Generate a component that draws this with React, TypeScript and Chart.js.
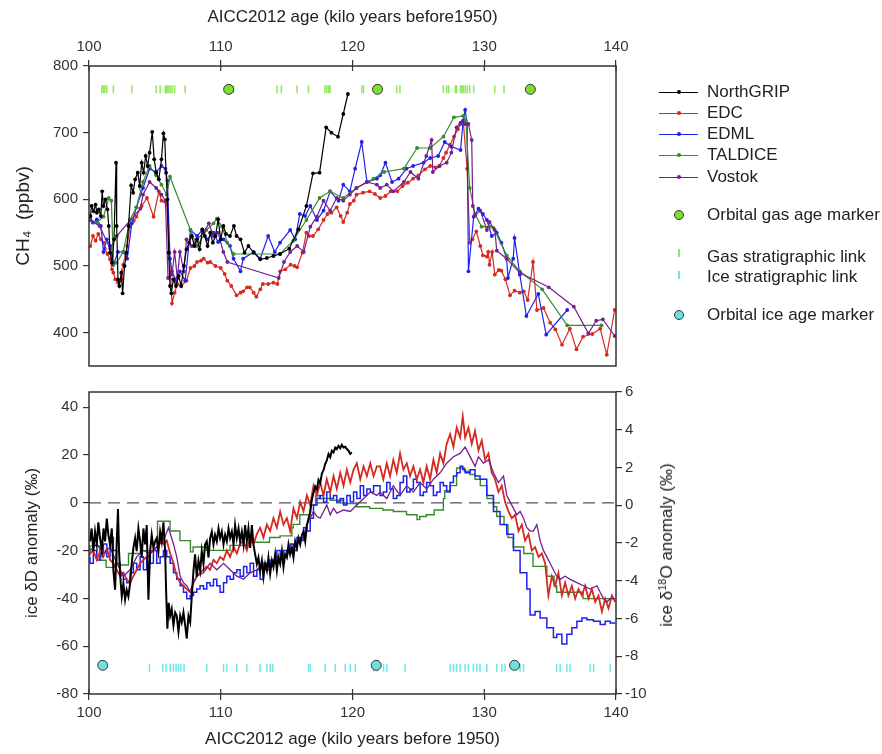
import React, { useEffect, useRef } from "react";
import { Chart, registerables } from "chart.js";
Chart.register(...registerables);

// ---------- tick labels ----------
const AGE_TICKS = [100, 110, 120, 130, 140];
const CH4_TICKS = [400, 500, 600, 700, 800];
const DD_TICKS = [-80, -60, -40, -20, 0, 20, 40];
const D18O_TICKS = [-10, -8, -6, -4, -2, 0, 2, 4, 6];

const SERIES_NAMES = ["NorthGRIP", "EDC", "EDML", "TALDICE", "Vostok"];
const SERIES_COLORS = ["#000000", "#d42a22", "#1e22ee", "#3a8a2c", "#74208f"];

// ---------- CH4 (ppbv) : [age ka, value] ----------
const ngripCH4 = [
  [100.1, 575], [100.2, 590], [100.35, 582], [100.5, 592], [100.6, 580], [100.75, 585], [100.9, 575], [101.0, 612],
  [101.1, 590], [101.25, 600], [101.4, 585], [101.5, 560], [101.6, 520], [101.75, 505], [101.9, 540], [102.05, 655],
  [102.1, 560], [102.2, 480], [102.3, 470], [102.45, 490], [102.55, 459], [102.7, 500], [102.85, 520], [103.0, 560],
  [103.2, 621], [103.35, 610], [103.5, 630], [103.7, 640], [103.85, 620], [104.0, 655], [104.15, 640], [104.3, 665],
  [104.45, 650], [104.6, 670], [104.8, 701], [104.95, 660], [105.1, 640], [105.3, 630], [105.5, 660], [105.65, 699],
  [105.75, 690], [105.85, 640], [105.95, 600], [106.05, 520], [106.15, 470], [106.25, 459], [106.4, 480], [106.6, 470],
  [106.8, 485], [107.0, 470], [107.2, 500], [107.4, 525], [107.6, 535], [107.8, 545], [108.0, 530], [108.2, 540],
  [108.4, 525], [108.6, 555], [108.8, 545], [109.0, 530], [109.2, 550], [109.4, 535], [109.6, 545], [109.8, 570],
  [110.0, 540], [110.2, 560], [110.4, 548], [110.7, 545], [111.0, 560], [111.2, 545], [111.5, 540], [111.8, 520],
  [112.1, 530], [112.5, 520], [113.0, 510], [113.5, 512], [114.0, 515], [114.5, 518], [115.2, 526], [115.9, 555],
  [116.5, 590], [117.0, 639], [117.5, 640], [118.0, 708], [118.4, 700], [118.9, 694], [119.3, 728], [119.65, 758],
];
const edcCH4 = [
  [100.1, 530], [100.3, 545], [100.5, 538], [100.7, 548], [100.9, 540], [101.1, 535], [101.2, 526], [101.4, 518],
  [101.6, 510], [101.75, 495], [101.85, 490], [102.0, 480], [102.2, 475], [102.4, 478], [102.5, 480], [102.6, 502],
  [102.9, 530], [103.1, 559], [103.4, 568], [103.6, 574], [104.0, 590], [104.4, 602], [104.9, 574], [105.3, 612],
  [105.5, 598], [105.9, 593], [106.1, 520], [106.3, 444], [106.5, 460], [106.7, 473], [107.0, 470], [107.4, 478],
  [107.7, 497], [108.0, 500], [108.2, 506], [108.5, 508], [108.7, 511], [109.0, 505], [109.2, 506], [109.6, 500],
  [110.0, 497], [110.3, 488], [110.5, 478], [110.8, 470], [111.2, 456], [111.5, 460], [111.7, 462], [112.0, 468],
  [112.2, 468], [112.5, 460], [112.7, 454], [113.0, 465], [113.2, 473], [113.6, 473], [114.0, 475], [114.3, 473],
  [114.5, 492], [114.9, 495], [115.3, 502], [115.6, 500], [115.8, 498], [116.2, 520], [116.5, 550], [116.7, 545],
  [117.0, 545], [117.4, 555], [117.8, 569], [118.1, 578], [118.4, 580], [118.8, 588], [119.1, 575], [119.3, 566],
  [119.6, 580], [119.8, 593], [120.1, 598], [120.3, 607], [120.8, 610], [121.3, 612], [121.7, 608], [122.1, 602],
  [122.5, 605], [122.9, 612], [123.4, 612], [123.8, 620], [124.2, 625], [124.6, 631], [125.0, 636], [125.5, 645],
  [125.9, 650], [126.3, 648], [126.6, 650], [126.9, 662], [127.1, 670], [127.4, 682], [127.7, 694], [128.0, 705],
  [128.2, 713], [128.4, 718], [128.7, 646], [128.9, 535], [129.1, 540], [129.4, 552], [129.7, 530], [129.9, 516],
  [130.2, 514], [130.3, 521], [130.4, 502], [130.6, 521], [130.8, 487], [131.1, 494], [131.3, 493], [131.6, 480],
  [131.96, 456], [132.3, 463], [132.7, 460], [133.0, 462], [133.3, 449], [133.7, 506], [134.0, 434], [134.5, 437],
  [135.0, 415], [135.4, 405], [135.9, 382], [136.5, 406], [137.0, 375], [137.5, 394], [138.2, 398], [138.8, 406],
  [139.3, 367], [139.9, 434],
];
const edmlCH4 = [
  [100.1, 574], [100.3, 565], [100.6, 570], [100.9, 560], [101.1, 521], [101.35, 540], [101.6, 530], [101.85, 502],
  [102.2, 521], [102.6, 521], [102.9, 511], [103.25, 564], [103.6, 588], [104.1, 617], [104.6, 646], [105.1, 641],
  [105.5, 650], [105.8, 646], [105.95, 628], [106.15, 511], [106.3, 492], [106.6, 478], [106.9, 492], [107.3, 478],
  [107.7, 554], [108.2, 545], [108.6, 554], [108.95, 540], [109.45, 550], [109.8, 536], [110.2, 540], [110.7, 530],
  [110.97, 511], [111.5, 492], [111.7, 511], [112.5, 521], [113.0, 511], [113.6, 545], [114.1, 521], [114.5, 535],
  [115.27, 554], [115.65, 540], [116.0, 578], [116.4, 575], [116.8, 590], [117.3, 569], [117.8, 583], [118.3, 612],
  [118.94, 598], [119.3, 622], [119.8, 612], [120.2, 646], [120.7, 686], [121.1, 626], [121.85, 631], [122.1, 636],
  [122.5, 655], [123.0, 626], [123.5, 631], [124.1, 646], [124.6, 650], [125.4, 655], [125.9, 662], [126.5, 665],
  [127.0, 686], [127.5, 679], [128.2, 674], [128.4, 718], [128.55, 734], [128.7, 713], [128.8, 492], [129.2, 574],
  [129.56, 586], [129.9, 578], [130.2, 569], [130.57, 545], [130.95, 550], [131.3, 535], [131.7, 511], [131.8, 482],
  [132.2, 511], [132.3, 542], [132.7, 487], [133.2, 425], [134.1, 458], [134.7, 397], [136.3, 434],
];
const taldiceCH4 = [
  [100.1, 569], [100.6, 565], [101.1, 574], [101.5, 602], [101.7, 598], [101.85, 502], [102.1, 505], [102.6, 521],
  [103.1, 569], [103.6, 588], [104.1, 626], [104.6, 650], [105.1, 636], [105.5, 622], [105.9, 607], [106.15, 634],
  [107.7, 554], [108.2, 530], [108.4, 535], [108.9, 554], [109.45, 564], [109.7, 571], [110.1, 559], [110.5, 535],
  [110.97, 518], [114.5, 518], [115.5, 538], [116.5, 569], [117.5, 602], [118.3, 612], [119.3, 602], [120.3, 617],
  [121.6, 631], [122.4, 641], [123.9, 646], [124.9, 677], [125.9, 677], [126.9, 694], [127.7, 723], [128.4, 725],
  [128.6, 718], [128.9, 617], [129.3, 578], [129.8, 559], [130.4, 559], [130.7, 557], [131.7, 516], [132.7, 492],
  [134.4, 465], [136.3, 411], [138.9, 411],
];
const vostokCH4 = [
  [100.1, 569], [100.8, 560], [101.6, 526], [102.1, 545], [103.9, 586], [104.1, 607], [104.6, 626], [105.1, 617],
  [105.5, 607], [105.8, 598], [106.0, 482], [106.3, 487], [106.5, 521], [106.7, 482], [106.9, 521], [107.2, 492],
  [107.4, 540], [107.8, 530], [108.2, 540], [108.7, 550], [109.1, 564], [109.45, 545], [109.8, 550], [110.2, 521],
  [110.5, 506], [114.4, 482], [114.8, 506], [115.27, 521], [115.8, 530], [116.3, 521], [116.8, 559], [117.3, 574],
  [117.8, 598], [118.3, 583], [118.8, 602], [119.3, 598], [119.8, 607], [120.3, 617], [121.1, 626], [121.85, 622],
  [122.1, 617], [122.6, 622], [123.1, 612], [123.9, 626], [124.4, 641], [125.0, 631], [125.6, 665], [126.0, 689],
  [126.1, 641], [126.6, 650], [127.15, 655], [127.5, 670], [127.9, 708], [128.2, 715], [128.55, 713], [128.8, 713],
  [129.05, 689], [129.13, 590], [129.3, 576], [129.7, 583], [130.2, 554], [130.4, 566], [130.8, 554], [130.95, 523],
  [131.7, 511], [132.7, 490], [134.9, 468], [136.8, 439], [137.9, 399], [138.5, 418], [139.0, 420], [139.9, 395],
];
const gasMarkers = [[110.6, 765], [121.9, 765], [133.5, 765]];
const GAS_LINK_LEVEL = 765;
const gasLinkAges = [
  100.97, 101.1, 101.2, 101.35, 101.85, 103.25, 105.1, 105.4, 105.8, 105.9, 106.0, 106.15, 106.3, 106.5, 107.3,
  110.8, 110.97, 114.26, 114.6, 115.8, 116.66, 117.9, 118.05, 118.2, 118.3, 120.7, 120.84, 123.35, 123.6, 126.9,
  127.15, 127.3, 127.8, 127.9, 128.2, 128.3, 128.4, 128.55, 128.7, 128.9, 129.2, 130.8, 131.5,
];

// ---------- ice isotopes : [age ka, value] ----------
// NorthGRIP on the δ18O (right) axis
const ngripIso = [
  [100.08, -1.91], [100.2, -1.23], [100.33, -2.43], [100.46, -1.4], [100.59, -2.08], [100.71, -0.9], [100.84, -1.74],
  [100.97, -2.43], [101.1, -1.23], [101.22, -1.91], [101.35, -0.71], [101.47, -1.57], [101.6, -2.08], [101.73, -1.23],
  [101.85, -3.46], [101.98, -4.48], [102.1, -2.08], [102.2, -0.2], [102.28, -2.43], [102.41, -4.14], [102.49, -4.83],
  [102.61, -4.14], [102.74, -5.0], [102.86, -4.48], [102.99, -4.83], [103.12, -4.14], [103.24, -3.11], [103.37, -2.26],
  [103.5, -1.74], [103.62, -2.43], [103.75, -1.23], [103.88, -1.91], [104.0, -2.77], [104.13, -1.23], [104.26, -2.08],
  [104.38, -1.05], [104.51, -5.0], [104.64, -2.43], [104.76, -1.57], [104.89, -2.26], [105.02, -1.91], [105.14, -1.74],
  [105.27, -2.43], [105.4, -1.4], [105.52, -1.91], [105.65, -0.9], [105.78, -2.43], [105.85, -4.48], [105.95, -6.54],
  [106.05, -5.17], [106.16, -5.86], [106.28, -5.5], [106.41, -6.37], [106.54, -5.68], [106.66, -5.86], [106.79, -6.71],
  [106.92, -5.86], [107.04, -6.2], [107.17, -5.68], [107.3, -6.37], [107.42, -7.06], [107.55, -5.86], [107.68, -6.2],
  [107.8, -4.83], [107.93, -3.46], [108.05, -2.6], [108.18, -3.8], [108.31, -2.94], [108.44, -3.46], [108.56, -2.43],
  [108.69, -3.11], [108.81, -2.08], [108.94, -1.91], [109.07, -2.77], [109.19, -1.74], [109.32, -1.4], [109.45, -2.08],
  [109.57, -1.57], [109.7, -1.91], [109.83, -1.23], [109.95, -1.74], [110.08, -1.4], [110.21, -2.08], [110.33, -1.57],
  [110.46, -1.91], [110.59, -1.23], [110.71, -1.74], [110.84, -1.4], [110.97, -2.08], [111.09, -1.05], [111.22, -1.74],
  [111.35, -1.23], [111.47, -1.91], [111.6, -1.4], [111.73, -2.08], [111.85, -1.05], [111.98, -1.91], [112.1, -1.23],
  [112.23, -2.26], [112.36, -1.05], [112.48, -2.08], [112.61, -2.6], [112.74, -3.11], [112.86, -2.77], [112.99, -3.46],
  [113.12, -2.94], [113.24, -3.8], [113.37, -3.11], [113.5, -3.46], [113.62, -2.77], [113.75, -3.63], [113.88, -2.94],
  [114.0, -3.28], [114.13, -2.6], [114.26, -3.46], [114.38, -2.77], [114.51, -3.11], [114.64, -2.43], [114.76, -3.28],
  [114.89, -2.6], [115.02, -2.77], [115.14, -2.08], [115.27, -2.6], [115.4, -2.26], [115.52, -2.77], [115.65, -1.91],
  [115.78, -2.26], [115.9, -1.74], [116.03, -2.08], [116.16, -1.57], [116.28, -1.4], [116.41, -1.91], [116.54, -1.05],
  [116.66, -0.71], [116.79, -0.37], [116.92, 0.32], [117.04, 0.66], [117.17, 1.0], [117.3, 0.83], [117.42, 1.35],
  [117.55, 1.18], [117.68, 1.69], [117.8, 1.86], [117.93, 2.2], [118.05, 2.38], [118.18, 2.72], [118.31, 2.55],
  [118.43, 2.89], [118.56, 2.8], [118.69, 3.06], [118.81, 2.98], [118.94, 3.15], [119.07, 3.02], [119.19, 3.2],
  [119.32, 3.06], [119.45, 3.1], [119.57, 2.98], [119.7, 2.89], [119.83, 2.72], [119.95, 2.8],
];
// δD (left axis)
const edcIso = [
  [100.08, -21.2], [100.33, -19.9], [100.59, -23.9], [100.84, -20.5], [101.09, -22.6], [101.35, -19.0], [101.6, -23.9],
  [101.85, -25.3], [102.11, -28.0], [102.36, -30.7], [102.61, -29.3], [102.86, -32.0], [103.12, -33.4], [103.37, -30.7],
  [103.62, -28.0], [103.88, -25.3], [104.13, -23.9], [104.38, -22.6], [104.64, -21.2], [104.89, -19.9], [105.14, -18.5],
  [105.4, -15.8], [105.65, -17.2], [105.9, -15.8], [106.16, -21.2], [106.41, -25.3], [106.66, -30.7], [106.92, -33.4],
  [107.17, -34.7], [107.42, -36.1], [107.68, -37.4], [107.93, -33.4], [108.18, -30.7], [108.43, -29.3], [108.69, -28.0],
  [108.94, -26.6], [109.19, -28.0], [109.45, -23.9], [109.7, -25.3], [109.95, -22.6], [110.21, -23.9], [110.46, -19.9],
  [110.71, -22.6], [110.97, -18.5], [111.22, -21.2], [111.47, -17.2], [111.73, -15.8], [111.98, -19.9], [112.23, -14.5],
  [112.49, -17.2], [112.74, -13.1], [112.99, -10.4], [113.24, -14.5], [113.5, -9.1], [113.75, -11.8], [114.0, -6.4],
  [114.26, -10.4], [114.51, -3.6], [114.76, -9.1], [115.02, -6.4], [115.27, -11.8], [115.52, -2.3], [115.78, -6.4],
  [116.03, 0.4], [116.28, -3.6], [116.54, 3.1], [116.79, -0.9], [117.04, 7.2], [117.3, 3.1], [117.55, 8.5],
  [117.8, 3.1], [118.05, 9.9], [118.31, 4.5], [118.56, 11.2], [118.81, 5.8], [119.07, 12.6], [119.32, 7.2],
  [119.57, 13.9], [119.83, 8.5], [120.08, 13.9], [120.33, 16.6], [120.59, 9.9], [120.84, 15.3], [121.09, 11.2],
  [121.35, 16.6], [121.6, 11.2], [121.85, 15.3], [122.09, 15.3], [122.34, 9.9], [122.6, 16.6], [122.85, 11.2],
  [123.1, 18.0], [123.36, 12.6], [123.61, 20.7], [123.86, 13.9], [124.12, 16.6], [124.37, 11.2], [124.62, 15.3],
  [124.87, 9.9], [125.13, 13.9], [125.38, 8.5], [125.63, 15.3], [125.89, 9.9], [126.14, 18.0], [126.39, 12.6],
  [126.65, 20.7], [126.9, 16.6], [127.15, 24.7], [127.41, 28.8], [127.66, 23.4], [127.91, 31.5], [128.17, 27.4],
  [128.37, 36.2], [128.55, 27.4], [128.8, 31.5], [129.05, 24.7], [129.3, 30.1], [129.56, 22.0], [129.81, 26.1],
  [130.06, 18.0], [130.32, 20.7], [130.57, 12.6], [130.82, 9.9], [131.08, 4.5], [131.33, 7.2], [131.58, 0.4],
  [131.84, -3.6], [132.09, -6.4], [132.34, -5.0], [132.6, -11.8], [132.85, -9.1], [133.1, -15.8], [133.36, -13.1],
  [133.61, -19.9], [133.86, -18.5], [134.12, -22.6], [134.37, -21.2], [134.62, -25.3], [134.87, -38.8], [135.13, -30.7],
  [135.38, -34.7], [135.63, -29.3], [135.89, -38.8], [136.14, -33.4], [136.39, -38.8], [136.65, -34.7], [136.9, -40.1],
  [137.15, -36.1], [137.41, -38.8], [137.66, -34.7], [137.91, -40.1], [138.17, -36.1], [138.42, -41.5], [138.67, -38.8],
  [138.93, -45.5], [139.18, -40.1], [139.43, -44.2], [139.69, -38.8], [139.94, -41.5],
];
const edmlIso = [
  [100.08, -22.6], [100.33, -25.3], [100.59, -19.9], [100.84, -23.9], [101.09, -21.2], [101.35, -17.2], [101.6, -22.6],
  [101.85, -14.5], [102.11, -19.9], [102.36, -25.3], [102.61, -29.3], [102.86, -32.0], [103.12, -33.4], [103.37, -29.3],
  [103.62, -25.3], [103.88, -28.0], [104.13, -22.6], [104.38, -28.0], [104.64, -22.6], [104.89, -25.3], [105.14, -19.9],
  [105.4, -25.3], [105.65, -22.6], [105.9, -19.9], [106.16, -22.6], [106.41, -25.3], [106.66, -29.3], [106.92, -32.0],
  [107.17, -34.7], [107.42, -37.4], [107.68, -40.1], [107.93, -38.8], [108.18, -37.4], [108.43, -36.1], [108.69, -34.7],
  [108.94, -36.1], [109.19, -33.4], [109.45, -34.7], [109.7, -32.0], [109.95, -34.7], [110.21, -37.4], [110.46, -33.4],
  [110.71, -30.7], [110.97, -32.0], [111.22, -29.3], [111.47, -28.0], [111.73, -30.7], [111.98, -26.6], [112.23, -29.3],
  [112.49, -25.3], [112.74, -30.7], [112.99, -28.0], [113.24, -32.0], [113.5, -25.3], [113.75, -28.0], [114.0, -23.9],
  [114.26, -25.3], [114.51, -19.9], [114.76, -22.6], [115.02, -19.9], [115.27, -21.2], [115.52, -17.2], [115.78, -19.9],
  [116.03, -14.5], [116.28, -15.8], [116.54, -10.4], [116.79, -11.8], [117.04, -6.4], [117.3, -0.9], [117.55, 1.8],
  [117.8, 3.1], [118.05, 0.4], [118.31, 4.5], [118.56, 1.8], [118.81, 3.1], [119.07, 0.4], [119.32, 1.8],
  [119.57, -0.9], [119.83, 3.1], [120.08, 0.4], [120.33, 4.5], [120.59, 1.8], [120.84, 7.2], [121.09, 3.1],
  [121.35, 5.8], [121.6, 4.5], [121.85, 7.2], [122.09, 7.2], [122.34, 3.1], [122.6, 4.5], [122.85, 8.5],
  [123.1, 5.8], [123.36, 1.8], [123.61, 3.1], [123.86, 8.5], [124.12, 11.2], [124.37, 4.5], [124.62, 5.8],
  [124.87, 9.9], [125.13, 8.5], [125.38, 3.1], [125.63, 4.5], [125.89, 8.5], [126.14, 7.2], [126.39, 3.1],
  [126.65, 4.5], [126.9, 8.5], [127.15, 7.2], [127.41, 4.5], [127.66, 8.5], [127.91, 11.2], [128.17, 12.6],
  [128.37, 15.3], [128.55, 14.0], [128.93, 12.6], [129.3, 13.9], [129.68, 11.2], [130.19, 9.9], [130.7, 3.1],
  [131.2, -3.6], [131.71, -9.1], [132.22, -13.1], [132.72, -19.9], [133.23, -29.3], [133.48, -36.1], [133.86, -46.9],
  [134.24, -45.5], [134.75, -48.2], [135.25, -52.3], [135.5, -56.4], [135.89, -55.0], [136.27, -59.1], [136.65, -55.0],
  [137.03, -52.3], [137.41, -49.6], [137.79, -48.2], [138.29, -48.9], [138.8, -49.6], [139.18, -50.9], [139.56, -49.6],
  [139.94, -50.3],
];
const taldiceIso = [
  [100.08, -22.0], [100.8, -18.0], [101.3, -24.0], [102.0, -27.0], [103.0, -26.0], [103.9, -21.2], [105.2, -20.0],
  [106.15, -7.7], [106.9, -11.8], [107.7, -15.8], [107.9, -20.5], [108.9, -18.5], [110.7, -19.9], [112.2, -17.8],
  [113.7, -16.5], [114.5, -14.5], [115.4, -13.8], [115.5, -10.4], [116.0, -9.0], [116.8, -5.0], [117.2, -0.9],
  [117.5, 3.1], [118.3, 1.8], [119.3, 1.1], [120.3, -0.3], [121.3, -1.6], [122.3, -2.3], [123.1, -3.0], [124.1, -3.6],
  [124.9, -5.0], [125.1, -7.0], [125.6, -5.7], [126.2, -5.0], [126.9, -3.0], [127.0, 1.8], [127.4, 5.1], [127.9, 7.2],
  [128.5, 14.6], [128.9, 13.2], [129.3, 11.9], [129.7, 9.9], [130.2, 7.2], [130.7, 1.8], [130.95, -1.6], [131.5, -5.7],
  [131.8, -9.1], [132.2, -14.5], [133.0, -18.5], [133.7, -21.2], [134.75, -26.6], [135.3, -30.7], [135.5, -34.7],
  [136.5, -37.4], [137.5, -37.4], [138.9, -40.1], [139.94, -40.1],
];
const vostokIso = [
  [100.08, -19.9], [100.59, -17.2], [101.09, -21.2], [101.6, -18.5], [102.11, -25.3], [102.61, -30.7], [103.12, -28.0],
  [103.62, -22.6], [104.13, -19.9], [104.64, -21.2], [105.14, -18.5], [105.65, -15.8], [106.03, -10.4], [106.41, -17.2],
  [106.66, -22.6], [106.92, -30.7], [107.17, -33.4], [107.42, -34.7], [107.68, -37.4], [107.93, -33.4], [108.18, -30.7],
  [108.69, -29.3], [109.19, -25.3], [109.7, -28.0], [110.21, -25.3], [110.71, -28.0], [111.22, -30.7], [111.73, -32.0],
  [112.23, -29.3], [112.74, -28.0], [113.24, -25.3], [113.75, -26.6], [114.26, -22.6], [114.76, -23.9], [115.27, -19.9],
  [115.78, -17.2], [116.28, -14.5], [116.54, -9.1], [116.79, -6.4], [117.04, -3.6], [117.3, -5.7], [117.55, -6.4],
  [117.8, -3.6], [118.05, -0.9], [118.31, -5.0], [118.56, -2.3], [118.81, -4.3], [119.32, -3.0], [119.83, -3.6],
  [120.33, -0.9], [120.84, 1.8], [121.35, 4.5], [121.85, 3.1], [122.09, 4.5], [122.6, 1.8], [123.1, 7.2],
  [123.61, 3.1], [124.12, 7.2], [124.62, 4.5], [125.13, 8.5], [125.63, 5.8], [126.14, 9.9], [126.65, 12.6],
  [127.15, 16.6], [127.66, 19.3], [128.17, 20.7], [128.55, 23.4], [128.8, 20.7], [129.05, 18.0], [129.3, 15.3],
  [129.56, 19.3], [129.94, 16.6], [130.32, 18.0], [130.7, 12.6], [131.08, 8.5], [131.46, 11.2], [131.71, 3.1],
  [131.96, 0.4], [132.22, -2.3], [132.47, -5.0], [132.72, -3.6], [132.98, -6.4], [133.23, -10.4], [133.48, -11.8],
  [133.73, -11.8], [133.99, -9.1], [134.24, -15.8], [134.49, -19.9], [134.75, -22.6], [135.0, -25.3], [135.25, -28.0],
  [135.5, -30.7], [135.76, -32.0], [136.14, -30.7], [136.52, -32.0], [137.03, -33.4], [137.53, -34.7], [138.04, -36.1],
  [138.55, -34.7], [138.8, -37.4], [139.05, -40.1], [139.3, -41.5], [139.56, -40.1], [139.94, -40.1],
];
const zeroLine = [[100, 0], [140, 0]];
const iceMarkers = [[101.04, -68], [121.8, -68], [132.3, -68]];
const ICE_LINK_LEVEL = -69;
const iceLinkAges = [
  104.59, 105.6, 105.85, 106.16, 106.41, 106.61, 106.79, 106.97, 107.22, 108.94, 110.21, 110.46, 111.22, 111.98,
  112.99, 113.5, 113.75, 113.95, 116.66, 116.79, 117.93, 118.69, 119.45, 119.83, 120.21, 121.6, 121.9, 122.36,
  122.6, 123.99, 127.41, 127.66, 127.91, 128.17, 128.55, 128.8, 129.18, 129.43, 129.68, 130.19, 130.95, 131.33,
  131.58, 132.72, 132.98, 135.5, 135.76, 136.27, 136.52, 138.04, 138.3, 139.56,
];

// ---------- helpers ----------
const pts = (a: number[][]) => a.map(([x, y]) => ({ x, y }));
const FONT = '"Liberation Sans", Arial, Helvetica, sans-serif';
const AXIS_COLOR = "#333";

const framePlugin = {
  id: "frame",
  afterDraw(chart: any, _args: any, opts: any) {
    const { ctx, chartArea: a } = chart;
    ctx.save();
    ctx.strokeStyle = AXIS_COLOR;
    ctx.lineWidth = 1.5;
    ctx.strokeRect(a.left, a.top, a.right - a.left, a.bottom - a.top);
    const xs = chart.scales.x;
    ctx.lineWidth = 1.2;
    for (const v of AGE_TICKS) {
      const px = xs.getPixelForValue(v);
      ctx.beginPath();
      if (opts.side === "top") {
        ctx.moveTo(px, a.top);
        ctx.lineTo(px, a.top + 5);
      } else {
        ctx.moveTo(px, a.bottom);
        ctx.lineTo(px, a.bottom - 5);
      }
      ctx.stroke();
    }
    ctx.restore();
  },
};

const tickFont = { family: FONT, size: 15 };
const titleFont = { family: FONT, size: 17 };
const gridOpts = { drawOnChartArea: false, drawTicks: true, tickLength: 6, color: AXIS_COLOR, lineWidth: 1.2 };

function ch4Dataset(name: string, color: string, data: number[][], order: number) {
  return {
    label: name,
    data: pts(data),
    borderColor: color,
    backgroundColor: color,
    borderWidth: 1.2,
    pointRadius: 1.9,
    pointBorderWidth: 0,
    pointBackgroundColor: color,
    pointHoverRadius: 0,
    order,
  };
}

function TopPanel() {
  const ref = useRef<HTMLCanvasElement>(null);
  useEffect(() => {
    const chart = new Chart(ref.current!, {
      type: "line",
      data: {
        datasets: [
          ch4Dataset(SERIES_NAMES[0], SERIES_COLORS[0], ngripCH4, 0),
          ch4Dataset(SERIES_NAMES[4], SERIES_COLORS[4], vostokCH4, 1),
          ch4Dataset(SERIES_NAMES[3], SERIES_COLORS[3], taldiceCH4, 2),
          ch4Dataset(SERIES_NAMES[2], SERIES_COLORS[2], edmlCH4, 3),
          ch4Dataset(SERIES_NAMES[1], SERIES_COLORS[1], edcCH4, 4),
          {
            label: "Gas stratigraphic link",
            data: gasLinkAges.map((x) => ({ x, y: GAS_LINK_LEVEL })),
            showLine: false,
            pointStyle: "line",
            pointRotation: 90,
            pointRadius: 4,
            pointBorderWidth: 1.5,
            pointBorderColor: "#8fe85a",
            pointHoverRadius: 0,
            order: 6,
          } as any,
          {
            label: "Orbital gas age marker",
            data: pts(gasMarkers),
            showLine: false,
            pointStyle: "circle",
            pointRadius: 5,
            pointBorderWidth: 1,
            pointBorderColor: "#333",
            pointBackgroundColor: "#7ee02c",
            pointHoverRadius: 0,
            order: -1,
          } as any,
        ],
      },
      options: {
        animation: false,
        responsive: false,
        events: [],
        layout: { padding: { left: 0, right: 266, top: 0, bottom: 2 } },
        plugins: { legend: { display: false }, tooltip: { enabled: false }, frame: { side: "top" } } as any,
        scales: {
          x: {
            type: "linear",
            position: "top",
            min: 100,
            max: 140,
            afterBuildTicks: (s: any) => { s.ticks = AGE_TICKS.map((value) => ({ value })); },
            afterFit: (s: any) => { s.height = 66; },
            ticks: { font: tickFont, color: AXIS_COLOR, padding: 4, maxRotation: 0 },
            grid: gridOpts,
            border: { display: false },
            title: { display: true, text: "AICC2012 age (kilo years before1950)", font: titleFont, color: "#222", padding: { top: 7, bottom: 0 } },
          },
          y: {
            type: "linear",
            min: 350,
            max: 800,
            afterBuildTicks: (s: any) => { s.ticks = CH4_TICKS.map((value) => ({ value })); },
            afterFit: (s: any) => { s.width = 89; },
            ticks: { font: tickFont, color: AXIS_COLOR, padding: 5 },
            grid: gridOpts,
            border: { display: false },
            title: { display: true, text: "CH\u2084  (ppbv)", font: { family: FONT, size: 19 }, color: "#222", padding: { top: 12, bottom: 0 } },
          },
        },
      } as any,
      plugins: [framePlugin],
    });
    return () => chart.destroy();
  }, []);
  return <canvas ref={ref} width={882} height={380} style={{ position: "absolute", left: 0, top: 0 }} />;
}

function isoDataset(name: string, color: string, data: number[][], width: number, order: number, axis: string, stepped: any) {
  return {
    label: name,
    data: pts(data),
    borderColor: color,
    borderWidth: width,
    pointRadius: 0,
    pointHoverRadius: 0,
    stepped,
    yAxisID: axis,
    order,
  };
}

function BottomPanel() {
  const ref = useRef<HTMLCanvasElement>(null);
  useEffect(() => {
    const chart = new Chart(ref.current!, {
      type: "line",
      data: {
        datasets: [
          {
            label: "zero",
            data: pts(zeroLine),
            borderColor: "#555",
            borderWidth: 1.3,
            borderDash: [12, 7],
            pointRadius: 0,
            yAxisID: "y",
            order: 10,
          } as any,
          isoDataset(SERIES_NAMES[0], SERIES_COLORS[0], ngripIso, 2, 0, "y2", false),
          isoDataset(SERIES_NAMES[4], SERIES_COLORS[4], vostokIso, 1.3, 1, "y", false),
          isoDataset(SERIES_NAMES[1], SERIES_COLORS[1], edcIso, 1.8, 2, "y", false),
          isoDataset(SERIES_NAMES[2], SERIES_COLORS[2], edmlIso, 1.5, 3, "y", "after"),
          isoDataset(SERIES_NAMES[3], SERIES_COLORS[3], taldiceIso, 1.4, 4, "y", "after"),
          {
            label: "Ice stratigraphic link",
            data: iceLinkAges.map((x) => ({ x, y: ICE_LINK_LEVEL })),
            showLine: false,
            pointStyle: "line",
            pointRotation: 90,
            pointRadius: 4,
            pointBorderWidth: 1.5,
            pointBorderColor: "#6fe6e6",
            pointHoverRadius: 0,
            yAxisID: "y",
            order: 6,
          } as any,
          {
            label: "Orbital ice age marker",
            data: pts(iceMarkers),
            showLine: false,
            pointStyle: "circle",
            pointRadius: 5,
            pointBorderWidth: 1,
            pointBorderColor: "#333",
            pointBackgroundColor: "#6ee0e0",
            pointHoverRadius: 0,
            yAxisID: "y",
            order: -1,
          } as any,
        ],
      },
      options: {
        animation: false,
        responsive: false,
        events: [],
        layout: { padding: { left: 0, right: 192, top: 0, bottom: 0 } },
        plugins: { legend: { display: false }, tooltip: { enabled: false }, frame: { side: "bottom" } } as any,
        scales: {
          x: {
            type: "linear",
            position: "bottom",
            min: 100,
            max: 140,
            afterBuildTicks: (s: any) => { s.ticks = AGE_TICKS.map((value) => ({ value })); },
            afterFit: (s: any) => { s.height = 60; },
            ticks: { font: tickFont, color: AXIS_COLOR, padding: 4, maxRotation: 0 },
            grid: gridOpts,
            border: { display: false },
            title: { display: true, text: "AICC2012 age (kilo years before 1950)", font: titleFont, color: "#222", padding: { top: 0, bottom: 4 } },
          },
          y: {
            type: "linear",
            position: "left",
            min: -80,
            max: 46.4,
            afterBuildTicks: (s: any) => { s.ticks = DD_TICKS.map((value) => ({ value })); },
            afterFit: (s: any) => { s.width = 89; },
            ticks: { font: tickFont, color: AXIS_COLOR, padding: 5 },
            grid: gridOpts,
            border: { display: false },
            title: { display: true, text: "ice \u03b4D anomaly (\u2030)", font: titleFont, color: "#222", padding: { top: 22, bottom: 0 } },
          },
          y2: {
            type: "linear",
            position: "right",
            min: -10,
            max: 6,
            afterBuildTicks: (s: any) => { s.ticks = D18O_TICKS.map((value) => ({ value })); },
            afterFit: (s: any) => { s.width = 74; },
            ticks: { font: tickFont, color: AXIS_COLOR, padding: 3 },
            grid: gridOpts,
            border: { display: false },
            title: { display: false },
          },
        },
      } as any,
      plugins: [framePlugin],
    });
    return () => chart.destroy();
  }, []);
  return <canvas ref={ref} width={882} height={376} style={{ position: "absolute", left: 0, top: 378 }} />;
}

const legendText: React.CSSProperties = {
  position: "absolute",
  left: 707,
  font: `17px ${FONT}`,
  color: "#222",
  lineHeight: "20px",
  whiteSpace: "nowrap",
};

function RightAxisTitle() {
  return (
    <div
      style={{
        position: "absolute",
        left: 667,
        top: 545,
        transform: "translate(-50%, -50%) rotate(-90deg)",
        font: `17px ${FONT}`,
        color: "#222",
        whiteSpace: "nowrap",
        lineHeight: "20px",
      }}
    >
      ice {"\u03b4"}
      <sup style={{ fontSize: 11, verticalAlign: "6px", lineHeight: 0 }}>18</sup>O anomaly ({"\u2030"})
    </div>
  );
}

function Legend() {
  const lineRows = [92, 113, 134, 155, 177];
  return (
    <>
      {SERIES_NAMES.map((n, i) => (
        <React.Fragment key={n}>
          <div style={{ position: "absolute", left: 659, top: lineRows[i] - 0.5, width: 39, height: 1.3, background: SERIES_COLORS[i] }} />
          <div style={{ position: "absolute", left: 677, top: lineRows[i] - 2, width: 4, height: 4, borderRadius: 2, background: SERIES_COLORS[i] }} />
          <div style={{ ...legendText, top: lineRows[i] - 10 }}>{n}</div>
        </React.Fragment>
      ))}
      <div style={{ position: "absolute", left: 674, top: 210, width: 8, height: 8, borderRadius: 5, background: "#7ee02c", border: "1px solid #333" }} />
      <div style={{ ...legendText, top: 205 }}>Orbital gas age marker</div>
      <div style={{ position: "absolute", left: 678, top: 249, width: 1.5, height: 8, background: "#8fe85a" }} />
      <div style={{ ...legendText, top: 247 }}>Gas stratigraphic link</div>
      <div style={{ position: "absolute", left: 678, top: 271, width: 1.5, height: 8, background: "#6fe6e6" }} />
      <div style={{ ...legendText, top: 267 }}>Ice stratigraphic link</div>
      <div style={{ position: "absolute", left: 674, top: 310, width: 8, height: 8, borderRadius: 5, background: "#6ee0e0", border: "1px solid #333" }} />
      <div style={{ ...legendText, top: 305 }}>Orbital ice age marker</div>
    </>
  );
}

export default function App() {
  return (
    <div style={{ position: "absolute", left: 0, top: 0, width: 882, height: 754, background: "#fff", overflow: "hidden" }}>
      <TopPanel />
      <BottomPanel />
      <RightAxisTitle />
      <Legend />
    </div>
  );
}
